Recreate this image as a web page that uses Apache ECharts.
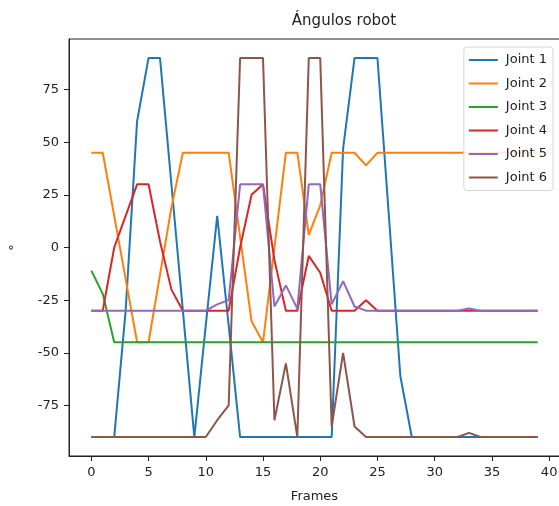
<!DOCTYPE html>
<html>
<head>
<meta charset="utf-8">
<script src="https://cdn.jsdelivr.net/npm/echarts@6/dist/echarts.min.js"></script>
<style>
  html, body { margin: 0; padding: 0; background: #fff; }
  #chart { width: 559px; height: 506px; }
</style>
</head>
<body>
<div id="chart"></div>
<script>
// Frame indices 0..39
const frames = Array.from({ length: 40 }, (_, i) => i);

// Joint angles (degrees) per frame
const joint1 = [-90, -90, -90, -30, 60, 90, 90, 30, -30, -90, -37, 15, -37, -90, -90, -90, -90, -90, -90, -90,
                -90, -90, 47, 90, 90, 90, 15, -61, -90, -90, -90, -90, -90, -90, -90, -90, -90, -90, -90, -90];
const joint2 = [45, 45, 15, -15, -45, -45, -13, 19, 45, 45, 45, 45, 45, 5, -35, -45, 0, 45, 45, 6,
                20, 45, 45, 45, 39, 45, 45, 45, 45, 45, 45, 45, 45, 45, 45, 45, 45, 45, 45, 45];
const joint3 = [-11, -22, -45, -45, -45, -45, -45, -45, -45, -45, -45, -45, -45, -45, -45, -45, -45, -45, -45, -45,
                -45, -45, -45, -45, -45, -45, -45, -45, -45, -45, -45, -45, -45, -45, -45, -45, -45, -45, -45, -45];
const joint4 = [-30, -30, 0, 15, 30, 30, 3, -20, -30, -30, -30, -30, -30, 0, 25, 30, -6, -30, -30, -4,
                -12, -30, -30, -30, -25, -30, -30, -30, -30, -30, -30, -30, -30, -30, -30, -30, -30, -30, -30, -30];
const joint5 = [-30, -30, -30, -30, -30, -30, -30, -30, -30, -30, -30, -27, -25, 30, 30, 30, -28, -18, -29, 30,
                30, -27, -16, -28, -30, -30, -30, -30, -30, -30, -30, -30, -30, -29, -30, -30, -30, -30, -30, -30];
const joint6 = [-90, -90, -90, -90, -90, -90, -90, -90, -90, -90, -90, -82, -75, 90, 90, 90, -82, -55, -90, 90,
                90, -85, -50, -85, -90, -90, -90, -90, -90, -90, -90, -90, -90, -88, -90, -90, -90, -90, -90, -90];

const seriesNames = ['Joint 1', 'Joint 2', 'Joint 3', 'Joint 4', 'Joint 5', 'Joint 6'];
const seriesData = [joint1, joint2, joint3, joint4, joint5, joint6];
const palette = ['#1f77b4', '#ff7f0e', '#2ca02c', '#d62728', '#9467bd', '#8c564b'];

const xTicks = [0, 5, 10, 15, 20, 25, 30, 35, 40];
const yTicks = [-75, -50, -25, 0, 25, 50, 75];

const font = 'DejaVu Sans';
const ink = '#222';

const chart = echarts.init(document.getElementById('chart'), null, { renderer: 'canvas' });

chart.setOption({
  animation: false,
  backgroundColor: '#fff',
  color: palette,
  title: {
    text: 'Ángulos robot',
    left: 339,
    top: 9,
    textAlign: 'center',
    textStyle: { fontFamily: font, fontSize: 15, fontWeight: 'normal', color: ink }
  },
  grid: {
    left: 69, top: 39, width: 491, height: 417,
    outerBoundsMode: 'none',
    containLabel: false,
    show: true, borderColor: '#222', borderWidth: 1, backgroundColor: 'transparent'
  },
  legend: {
    orient: 'vertical',
    right: 6,
    top: 47,
    data: seriesNames,
    icon: 'rect',
    itemWidth: 29,
    itemHeight: 2,
    itemGap: 7.5,
    padding: [5, 6, 5, 5],
    backgroundColor: 'rgba(255,255,255,0.85)',
    borderColor: '#d5d5d5',
    borderWidth: 1,
    borderRadius: 3,
    textStyle: { fontFamily: font, fontSize: 13, color: ink, lineHeight: 16, padding: [0, 0, 0, 3] }
  },
  xAxis: {
    type: 'value',
    min: -1.95,
    max: 40.95,
    name: 'Frames',
    nameLocation: 'middle',
    nameGap: 34,
    nameTextStyle: { fontFamily: font, fontSize: 13, color: ink },
    axisLine: { show: true, onZero: false, lineStyle: { color: '#222', width: 1 } },
    axisTick: { show: true, inside: false, length: 5, customValues: xTicks, lineStyle: { color: '#222' } },
    axisLabel: { customValues: xTicks, margin: 10, fontFamily: font, fontSize: 13, color: ink },
    splitLine: { show: false }
  },
  yAxis: {
    type: 'value',
    min: -99,
    max: 99,
    name: '°',
    nameLocation: 'middle',
    nameGap: 48,
    nameRotate: 90,
    nameTextStyle: { fontFamily: font, fontSize: 13, color: ink },
    axisLine: { show: true, onZero: false, lineStyle: { color: '#222', width: 1 } },
    axisTick: { show: true, inside: false, length: 5, customValues: yTicks, lineStyle: { color: '#222' } },
    axisLabel: { customValues: yTicks, margin: 10, fontFamily: font, fontSize: 13, color: ink },
    splitLine: { show: false }
  },
  series: seriesNames.map((name, k) => ({
    name,
    type: 'line',
    data: frames.map((f, i) => [f, seriesData[k][i]]),
    showSymbol: false,
    symbol: 'none',
    lineStyle: { width: 2, color: palette[k] },
    itemStyle: { color: palette[k] },
    emphasis: { disabled: true }
  }))
});
</script>
</body>
</html>
